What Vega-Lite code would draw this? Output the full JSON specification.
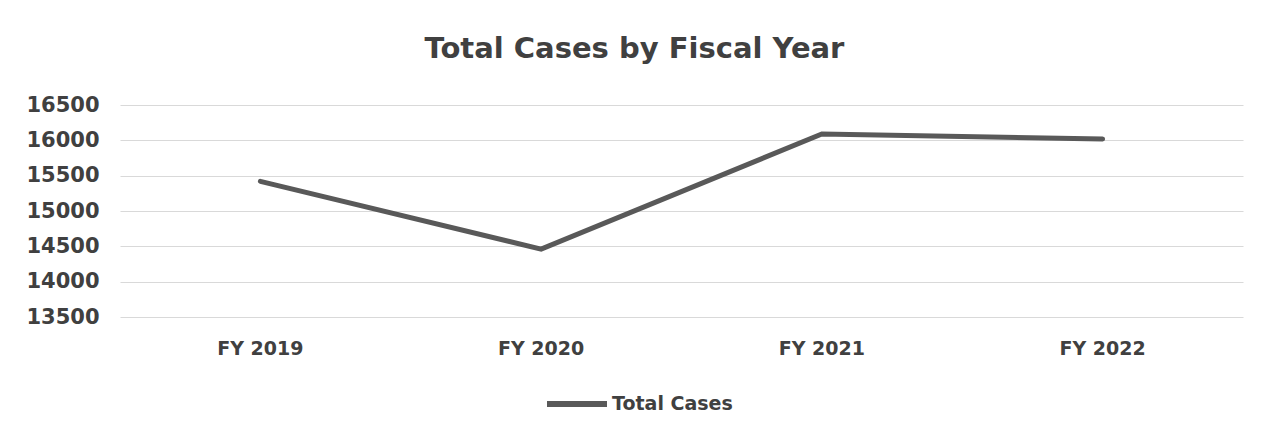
{
  "$schema": "https://vega.github.io/schema/vega-lite/v6.json",
  "width": 1123,
  "height": 212,
  "autosize": {"type": "none"},
  "padding": {"left": 120, "top": 105, "right": 28, "bottom": 124},
  "background": "white",
  "title": {
    "text": "Total Cases by Fiscal Year",
    "font": "DejaVu Sans",
    "fontWeight": "bold",
    "fontSize": 29,
    "color": "#404040",
    "anchor": "middle",
    "frame": "bounds",
    "offset": 30
  },
  "data": {
    "values": [
      {"year": "FY 2019", "cases": 15420, "series": "Total Cases"},
      {"year": "FY 2020", "cases": 14460, "series": "Total Cases"},
      {"year": "FY 2021", "cases": 16090, "series": "Total Cases"},
      {"year": "FY 2022", "cases": 16020, "series": "Total Cases"}
    ]
  },
  "mark": {"type": "line", "strokeWidth": 5, "strokeCap": "round", "strokeJoin": "miter"},
  "encoding": {
    "x": {
      "field": "year",
      "type": "ordinal",
      "title": null,
      "scale": {"type": "band", "paddingInner": 0, "paddingOuter": 0},
      "axis": {
        "labelAngle": 0,
        "labelFont": "DejaVu Sans",
        "labelFontWeight": "bold",
        "labelFontSize": 19,
        "labelColor": "#404040",
        "labelPadding": 22,
        "ticks": false,
        "domain": false,
        "grid": false
      }
    },
    "y": {
      "field": "cases",
      "type": "quantitative",
      "title": null,
      "scale": {"domain": [13500, 16500], "nice": false, "zero": false},
      "axis": {
        "values": [13500, 14000, 14500, 15000, 15500, 16000, 16500],
        "format": "d",
        "labelFont": "DejaVu Sans",
        "labelFontWeight": "bold",
        "labelFontSize": 21,
        "labelColor": "#404040",
        "labelPadding": 21,
        "ticks": false,
        "domain": false,
        "grid": true,
        "gridColor": "#d9d9d9",
        "gridWidth": 1
      }
    },
    "color": {
      "field": "series",
      "type": "nominal",
      "scale": {"range": ["#595959"]},
      "legend": {
        "title": null,
        "orient": "none",
        "legendX": 424,
        "legendY": 266,
        "symbolType": "stroke",
        "symbolSize": 3600,
        "symbolStrokeWidth": 6,
        "labelFont": "DejaVu Sans",
        "labelFontWeight": "bold",
        "labelFontSize": 19,
        "labelColor": "#404040",
        "labelOffset": 2
      }
    }
  },
  "config": {"view": {"stroke": null}}
}
